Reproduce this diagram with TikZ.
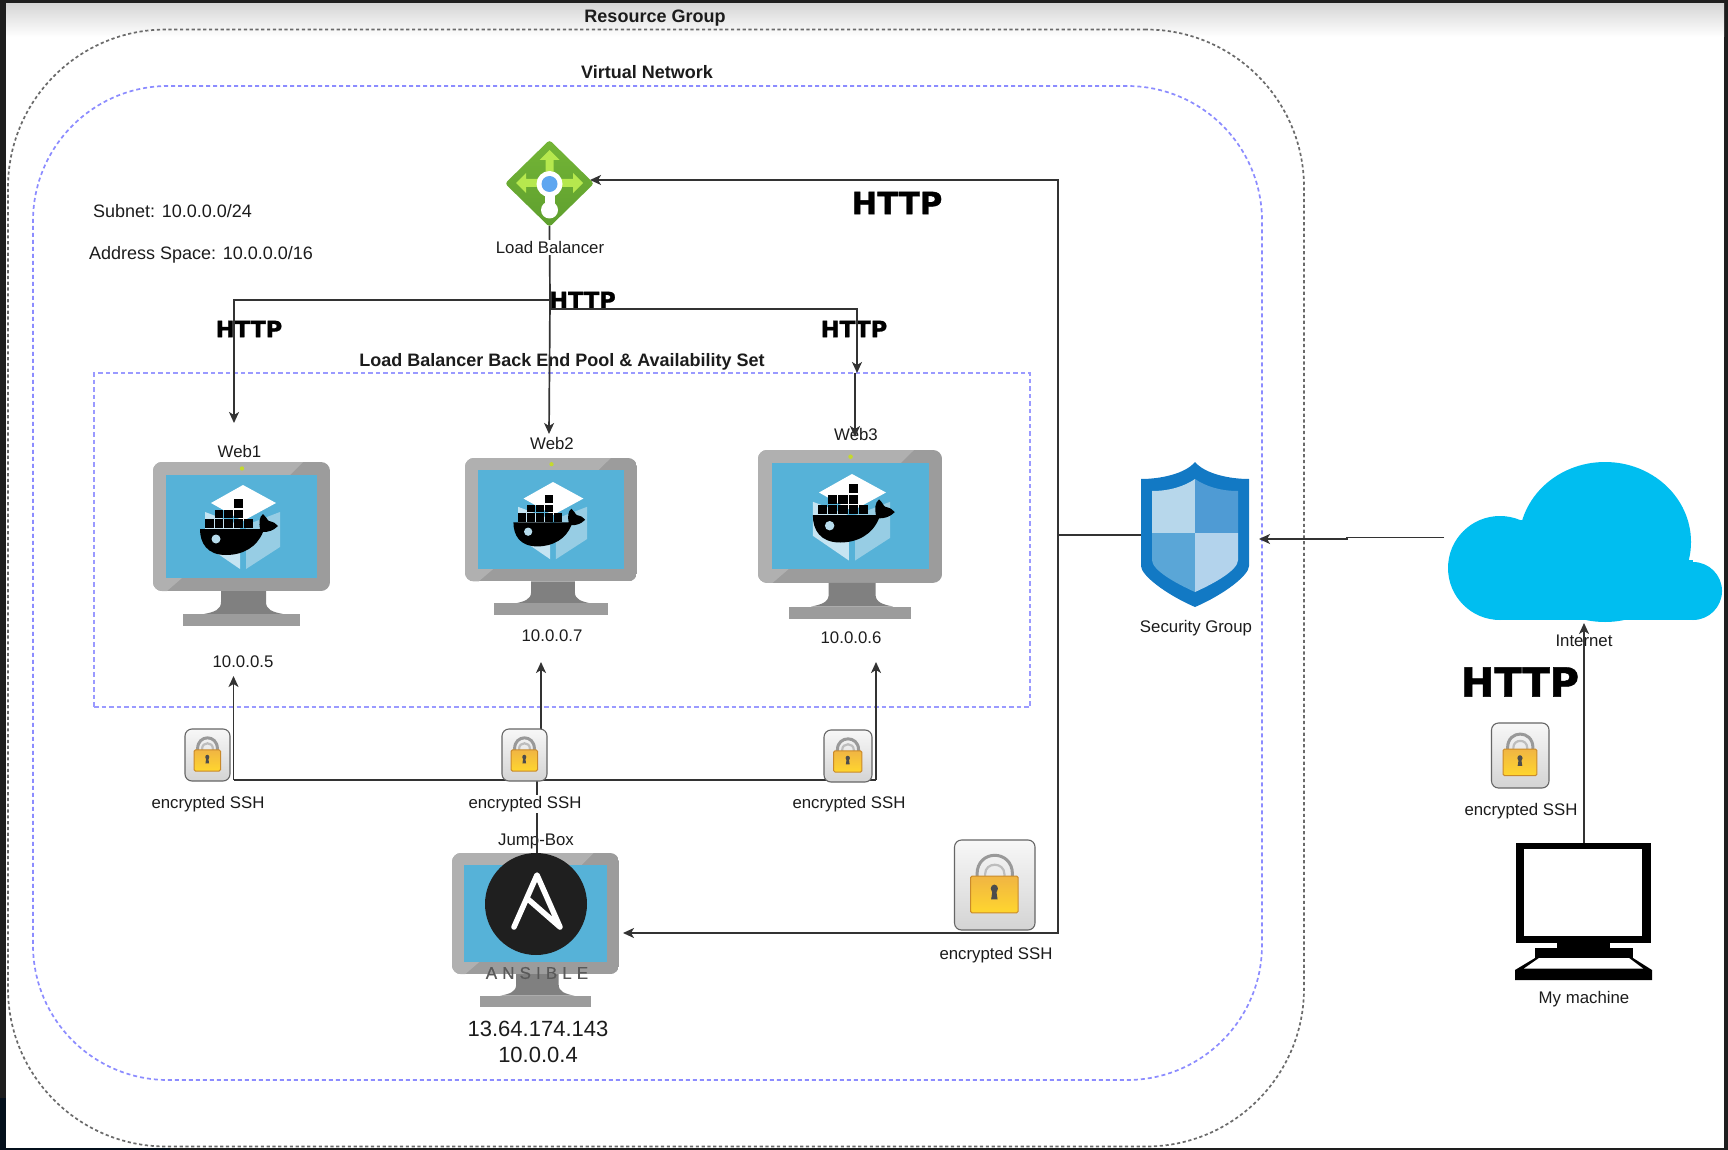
\documentclass[tikz,border=0pt]{standalone}
\usepackage{fontspec}
\setmainfont{Liberation Sans}
\newfontfamily\httpfont[FakeBold=1.2]{DejaVu Sans Bold}
\newfontfamily\ansfont[LetterSpace=30,FakeBold=0.3]{Liberation Sans}
\usetikzlibrary{arrows.meta,positioning}
\definecolor{framedark}{HTML}{1E1E1E}
\definecolor{framenavy}{HTML}{04101C}
\definecolor{rggrey}{HTML}{6A6A6A}
\definecolor{vnblue}{HTML}{8C8CFF}
\definecolor{poolblue}{HTML}{9A9AFF}
\definecolor{wire}{HTML}{333333}
\definecolor{txt}{HTML}{1C1C1C}
\definecolor{screenblue}{HTML}{56B2D8}
\definecolor{cloudblue}{HTML}{00BEF0}
\definecolor{faceL}{HTML}{C5E4F2}
\definecolor{faceR}{HTML}{97CDE4}
\definecolor{eyeblue}{HTML}{B7DCEC}
\definecolor{leddot}{HTML}{C4D92E}
\definecolor{lbtop}{HTML}{74B536}
\definecolor{lbbot}{HTML}{5E9F2E}
\definecolor{lbarm}{HTML}{B6E84E}
\definecolor{lbdot}{HTML}{5EA6F0}
\definecolor{shieldout}{HTML}{1279C4}
\definecolor{shieldTL}{HTML}{B7D7EB}
\definecolor{shieldTR}{HTML}{4F9BD4}
\definecolor{shieldBL}{HTML}{5AA6D7}
\definecolor{shieldBR}{HTML}{B3D3EC}
\definecolor{locktop}{HTML}{F0B543}
\definecolor{lockbot}{HTML}{FFD62E}
\definecolor{lockedge}{HTML}{C98A2B}
\tikzset{
  x=1pt,y=-1pt,
  slotbox/.style={rectangle,inner sep=0pt,outer sep=0pt},
  rgbox/.style={slotbox,draw=rggrey,line width=1.7pt,dash pattern=on 3.2pt off 2.6pt,rounded corners=158pt},
  vnbox/.style={slotbox,draw=vnblue,line width=1.7pt,dash pattern=on 4pt off 3pt,rounded corners=135pt},
  poolbox/.style={slotbox,draw=poolblue,line width=1.8pt,dash pattern=on 4.5pt off 3pt},
  lbl/.style={inner sep=0pt,text=txt,font=\fontsize{16.8}{20}\selectfont},
  lblw/.style={lbl,fill=white,inner xsep=1pt,inner ysep=1pt},
  lblbig/.style={inner sep=0pt,text=txt,font=\fontsize{18}{22}\selectfont},
  lblip/.style={inner sep=0pt,text=txt,font=\fontsize{22}{26}\selectfont},
  lblbold/.style={inner sep=0pt,text=txt,font=\fontsize{18}{22}\selectfont\bfseries},
  httpS/.style={inner sep=0pt,text=black,font=\httpfont\fontsize{22.5}{26}\selectfont},
  httpM/.style={inner sep=0pt,text=black,font=\httpfont\fontsize{30.7}{34}\selectfont},
  httpL/.style={inner sep=0pt,text=black,font=\httpfont\fontsize{40}{44}\selectfont},
  wireline/.style={draw=wire,line width=1.7pt},
  wirearrow/.style={wireline,-{Stealth[length=11pt,width=10pt,inset=3pt]}},
  monitor/.pic={
    \begin{scope}
      \clip[rounded corners=9pt] (0,0) rectangle (177,129);
      \fill[black!39] (0,0) rectangle (177,129);
      \fill[black!31] (0,0) -- (150,0) -- (137,13) -- (29,116) -- (14,129) -- (0,129) -- cycle;
    \end{scope}
    \fill[black!50] (68,129) -- (113,129) -- (113,140) .. controls (113,148) and (120,150) .. (130,152)
       -- (51,152) .. controls (61,150) and (68,148) .. (68,140) -- cycle;
    \fill[black!39] (30,152) rectangle (147,164);
    \fill[screenblue] (13,13) rectangle (164,116);
    \fill[leddot] (89,6.5) circle (2.2);
  },
  dockerbox/.pic={
    \fill[faceL] (-38,27) -- (-38,60) -- (-3,84) -- (-3,40) -- cycle;
    \fill[faceR] (3,40) -- (37,27) -- (37,62) -- (3,84) -- cycle;
    \fill[white] (0,0) -- (33,18) -- (0,36) -- (-32,18) -- cycle;
  },
  dockerwhale/.pic={
    \fill[black] (-43,44) -- (17,44) .. controls (16,38) and (16,32) .. (20,29)
      .. controls (23,31) and (24,35) .. (26,36) .. controls (30,37) and (33,38) .. (35,41)
      .. controls (30,46) and (25,47) .. (20,47) .. controls (14,62) and (0,70) .. (-17,70)
      .. controls (-36,70) and (-43,58) .. (-43,44) -- cycle;
    \foreach \cx in {-38,-28.3,-18.6,-8.9,0.8} {\fill[black] (\cx,34) rectangle ++(8.7,9);}
    \foreach \cx in {-28.3,-18.6,-8.9} {\fill[black] (\cx,24.5) rectangle ++(8.7,8.6);}
    \fill[black] (-8.9,14) rectangle ++(8.7,9);
    \fill[eyeblue] (-27,54) circle (4.5);
  },
  padlock/.pic={
    \shade[top color=black!3,bottom color=black!17,draw=black!60,line width=1.1pt,rounded corners=7pt]
      (0,0) rectangle (100,100);
    \draw[black!40,line width=3pt] (28,42) -- (28,38) .. controls (28,10) and (72,10) .. (72,38) -- (72,42);
    \draw[black!26,line width=2.2pt] (38,42) -- (38,38) .. controls (38,24) and (62,24) .. (62,38) -- (62,42);
    \shade[top color=locktop,bottom color=lockbot,draw=lockedge,line width=1pt,rounded corners=1.5pt]
      (20,40) rectangle (79,81);
    \fill[black!70] (49.5,54) circle (4.5);
    \fill[black!70] (47.5,54) -- (51.5,54) -- (53.5,66) -- (45.5,66) -- cycle;
  }
}
\begin{document}
\begin{tikzpicture}
\useasboundingbox (0,0) rectangle (1728,1150);
% screenshot frame
\fill[framedark] (0,0) rectangle (1728,1150);
\fill[framenavy] (0,1098) rectangle (6,1150);
\fill[framenavy] (0,1148) rectangle (170,1150);
\fill[white] (6,4) rectangle (1724,1148);
\shade[top color=black!16,bottom color=white] (6,4) rectangle (1724,37);

% containers
\node[rgbox,minimum width=1296pt,minimum height=1117pt] (rg) at (656,588) {};
\node[vnbox,minimum width=1229pt,minimum height=994pt] (vn) at (647.5,583) {};
\node[poolbox,minimum width=936pt,minimum height=334pt] (pool) at (562,540) {};

% icon places
\node[slotbox,minimum width=87pt,minimum height=85pt] (lb) at (549.5,183.5) {};
\node[slotbox,minimum width=177pt,minimum height=164pt] (web1) at (241.5,544) {};
\node[slotbox,minimum width=172pt,minimum height=157pt] (web2) at (551,536.5) {};
\node[slotbox,minimum width=184pt,minimum height=169pt] (web3) at (850,534.5) {};
\node[slotbox,minimum width=167pt,minimum height=154pt] (jump) at (535.5,930) {};
\node[slotbox,minimum width=108pt,minimum height=145pt] (sg) at (1195,534.5) {};
\node[slotbox,minimum width=274pt,minimum height=158pt] (cloud) at (1585,541) {};
\node[slotbox,minimum width=136pt,minimum height=137pt] (pc) at (1583.5,911.5) {};
\node[slotbox,minimum width=45pt,minimum height=52pt] (lock1) at (207.5,755) {};
\node[slotbox,minimum width=45pt,minimum height=52pt] (lock2) at (524.5,755) {};
\node[slotbox,minimum width=48pt,minimum height=52pt] (lock3) at (848,756) {};
\node[slotbox,minimum width=80.5pt,minimum height=90pt] (lock4) at (994.75,885) {};
\node[slotbox,minimum width=57.5pt,minimum height=65pt] (lock5) at (1520.25,755.5) {};

% labels under the connectors
\node[lblbold] (rgl) at (655,18.5) {Resource Group};
\node[lblbold] (vnl) at (647,72.5) {Virtual Network};
\node[lblbold] (pooll) at (562,362) {Load Balancer Back End Pool \& Availability Set};
\node[lblbig,anchor=west] (subnet) at (93,211) {Subnet: 10.0.0.0/24};
\node[lblbig,anchor=west] (space) at (89,255) {Address Space: 10.0.0.0/16};
\node[httpM] (h1) at (897,203) {HTTP};
\node[httpS] (h2) at (582.5,300) {HTTP};
\node[httpS] (h3) at (249,329) {HTTP};
\node[httpS] (h4) at (854,329) {HTTP};
\node[httpL] (h5) at (1520,682) {HTTP};
\node[lbl] (w1l) at (239.5,451.5) {Web1};
\node[lbl] (w2l) at (552,443) {Web2};
\node[lbl] (w3l) at (856,434.5) {Web3};
\node[lbl] (ip5) at (243,662) {10.0.0.5};
\node[lbl] (ip7) at (552,636) {10.0.0.7};
\node[lbl] (ip6) at (851,637.5) {10.0.0.6};
\node[lbl] (s1) at (208,804) {encrypted SSH};
\node[lbl] (s3) at (849,804) {encrypted SSH};
\node[lbl] (s4) at (996,955) {encrypted SSH};
\node[lbl] (s5) at (1521,811) {encrypted SSH};
\node[lbl] (jbl) at (536,841) {Jump-Box};
\node[lblip,align=center] (ipj) at (538,1042) {13.64.174.143\\10.0.0.4};
\node[lbl] (sgl) at (1196,628.5) {Security Group};
\node[lbl] (inet) at (1584,641) {Internet};
\node[lbl] (myl) at (1584,999.5) {My machine};

% junctions and free ends
\coordinate (sgwest) at (1141,535);
\coordinate (trunk) at (1058,535);
\coordinate (trunkT) at (1058,180);
\coordinate (trunkB) at (1058,933);
\coordinate (lbtip) at (590,180);
\coordinate (jumptip) at (623,933);
\coordinate (cloudout) at (1444,537.4);
\coordinate (cloudmid) at (1347,537.4);
\coordinate (cloudmid2) at (1347,539);
\coordinate (sgtip) at (1259,539);
\coordinate (pcout) at (1584,843);
\coordinate (cloudtip) at (1584,623);
\coordinate (lbsplitL) at (550,300);
\coordinate (lbsplitR) at (550,309);
\coordinate (w1corner) at (234,300);
\coordinate (w1tip) at (234,423);
\coordinate (w2tip) at (549,434);
\coordinate (w3corner) at (857,309);
\coordinate (w3mid) at (857,373);
\coordinate (w3mid2) at (855,373);
\coordinate (w3tip) at (855,437);
\coordinate (busJ) at (537,780);
\coordinate (bus1) at (233.5,780);
\coordinate (bus2) at (541,780);
\coordinate (bus3) at (876,780);
\coordinate (tip1) at (233.5,676);
\coordinate (tip2) at (541,662);
\coordinate (tip3) at (876,662);
\coordinate (jumptop) at (537,853);

% connectors
\draw[wireline] (sgwest) -- (trunk);
\draw[wirearrow] (trunk) -- (trunkT) -- (lbtip);
\draw[wirearrow] (trunk) -- (trunkB) -- (jumptip);
\draw[wireline] (lb.south) -- (lbsplitL);
\draw[wirearrow] (lbsplitL) -- (w1corner) -- (w1tip);
\draw[wirearrow] (lbsplitL) -- (w2tip);
\draw[wirearrow] (lbsplitR) -- (w3corner) -- (w3mid);
\draw[wirearrow] (w3mid2) -- (w3tip);
\draw[wirearrow] (cloudout) -- (cloudmid) -- (cloudmid2) -- (sgtip);
\draw[wirearrow] (pcout) -- (cloudtip);
\draw[wireline] (jumptop) -- (busJ);
\draw[wirearrow] (bus1) -- (tip1);
\draw[wireline] (bus1) -- (bus3);
\draw[wirearrow] (bus2) -- (tip2);
\draw[wirearrow] (bus3) -- (tip3);

% labels that sit over a connector
\node[lblw] (lbl1) at (550,247.5) {Load Balancer};
\node[lblw] (s2) at (525,804) {encrypted SSH};

% load balancer icon
\shade[top color=lbtop,bottom color=lbbot,rounded corners=3pt]
  (505,183.5) -- (549.5,140) -- (594,183.5) -- (549.5,227) -- cycle;
\fill[lbarm]
  (549.5,150) -- (559.5,160) -- (553.5,160) -- (553.5,179) -- (573,179) -- (573,173) -- (583,183)
  -- (573,193) -- (573,187) -- (526,187) -- (526,193) -- (516,183) -- (526,173) -- (526,179)
  -- (545.5,179) -- (545.5,160) -- (539.5,160) -- cycle;
\fill[white] (549.5,184) circle (13);
\fill[white] (544.5,190) rectangle (554.5,205);
\fill[white] (549.5,210) circle (8.5);
\fill[lbdot] (549.5,184) circle (8);

% monitors
\pic[xscale=1] at (153,462) {monitor};
\pic[xscale=0.972,yscale=0.957] at (465,458) {monitor};
\pic[xscale=1.04,yscale=1.03] at (758,450) {monitor};
\pic[xscale=0.944,yscale=0.939] at (452,853) {monitor};
\pic at (243,485) {dockerbox};
\pic at (243,485) {dockerwhale};
\pic[scale=0.92] at (553,482) {dockerbox};
\pic[scale=0.92] at (553,482) {dockerwhale};
\pic[scale=1.03] at (852,474) {dockerbox};
\pic[scale=1.05] at (858,469) {dockerwhale};

% ansible logo
\fill[black!88] (536,904) circle (51);
\draw[white,line width=5.5pt,line join=round,line cap=round]
  (514,927) -- (537,875) -- (560,927) -- (529,900);
\node[inner sep=0pt,text=black!65,font=\ansfont\fontsize{17}{20}\selectfont] (ans) at (537,973) {ANSIBLE};

% shield
\fill[shieldout] (1195,462) .. controls (1205,474) and (1230,479) .. (1249,479)
  -- (1249,566) .. controls (1249,575) and (1225,594) .. (1195,607)
  .. controls (1165,594) and (1141,575) .. (1141,566) -- (1141,479)
  .. controls (1160,479) and (1185,474) .. (1195,462) -- cycle;
\fill[shieldTL] (1152,533) -- (1152,491) .. controls (1170,491) and (1185,486) .. (1195,479) -- (1195,533) -- cycle;
\fill[shieldTR] (1195,533) -- (1195,479) .. controls (1205,486) and (1220,491) .. (1238,491) -- (1238,533) -- cycle;
\fill[shieldBL] (1152,533) -- (1195,533) -- (1195,592) .. controls (1175,583) and (1152,570) .. (1152,560) -- cycle;
\fill[shieldBR] (1195,533) -- (1238,533) -- (1238,560) .. controls (1238,570) and (1215,583) .. (1195,592) -- cycle;

% cloud
\fill[cloudblue] (1605,542) ellipse [x radius=86,y radius=80];
\fill[cloudblue] (1500,568) circle (52);
\fill[cloudblue] (1693,591) circle (29);
\fill[cloudblue] (1500,560) rectangle (1693,620);
\fill[cloudblue] (1640,562) rectangle (1693,590);
\fill[cloudblue] (1500,520) rectangle (1560,570);

% my machine
\fill[black] (1515.5,843) rectangle (1651,943);
\fill[white] (1524,849) rectangle (1642,935.5);
\fill[black] (1557,943) rectangle (1610,948);
\fill[black] (1535,948) rectangle (1633,958);
\fill[black] (1535,958) -- (1633,958) -- (1652,970) -- (1652,980) -- (1515,980) -- (1515,970) -- cycle;
\fill[white] (1539,958) -- (1629,958) -- (1643,968.5) -- (1524,968.5) -- cycle;

% padlocks
\pic[xscale=0.45,yscale=0.52] at (185,729) {padlock};
\pic[xscale=0.45,yscale=0.52] at (502,729) {padlock};
\pic[xscale=0.48,yscale=0.52] at (824,730) {padlock};
\pic[xscale=0.805,yscale=0.90] at (954.5,840) {padlock};
\pic[xscale=0.575,yscale=0.65] at (1491.5,723) {padlock};
\end{tikzpicture}
\end{document}
